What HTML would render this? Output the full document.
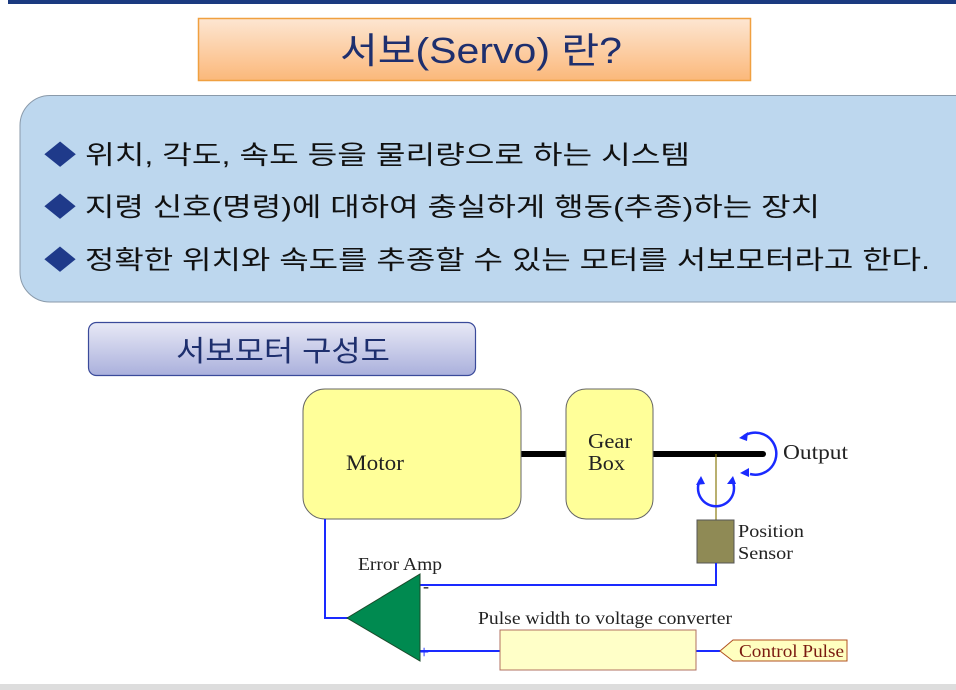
<!DOCTYPE html>
<html><head><meta charset="utf-8"><style>
html,body{margin:0;padding:0;background:#fff;width:956px;height:690px;overflow:hidden}
svg{display:block}
.k{font-family:"Liberation Sans","Noto Sans CJK KR","NanumGothic",sans-serif}
.s{font-family:"Liberation Serif",serif}
</style></head><body>
<svg width="956" height="690" viewBox="0 0 956 690" xmlns="http://www.w3.org/2000/svg">
<defs>
<linearGradient id="og" x1="0" y1="0" x2="0" y2="1"><stop offset="0" stop-color="#fde6d2"/><stop offset="1" stop-color="#fbb87a"/></linearGradient>
<linearGradient id="lg" x1="0" y1="0" x2="0" y2="1"><stop offset="0" stop-color="#e8e9f6"/><stop offset="1" stop-color="#aab0dc"/></linearGradient>
</defs>
<rect x="8" y="0" width="948" height="4" fill="#1b3a80"/>
<rect x="198.5" y="18.5" width="552" height="62" fill="url(#og)" stroke="#f0a040" stroke-width="1.5"/>
<text x="340" y="63" class="k" font-size="36" fill="#1e2f6e" textLength="282" lengthAdjust="spacingAndGlyphs">서보(Servo) 란?</text>
<path d="M50 95.5 H960 V302 H50 A30 30 0 0 1 20 272 V125.5 A30 30 0 0 1 50 95.5 Z" fill="#bdd7ee" stroke="#8a9aaa" stroke-width="1"/>
<g class="k" font-size="26" fill="#111">
<text x="44" y="164" textLength="646" lengthAdjust="spacingAndGlyphs"><tspan fill="#1f3a8a">◆</tspan> 위치, 각도, 속도 등을 물리량으로 하는 시스템</text>
<text x="44" y="216" textLength="776" lengthAdjust="spacingAndGlyphs"><tspan fill="#1f3a8a">◆</tspan> 지령 신호(명령)에 대하여 충실하게 행동(추종)하는 장치</text>
<text x="44" y="269" textLength="886" lengthAdjust="spacingAndGlyphs"><tspan fill="#1f3a8a">◆</tspan> 정확한 위치와 속도를 추종할 수 있는 모터를 서보모터라고 한다.</text>
</g>
<rect x="88.5" y="322.5" width="387" height="53" rx="8" fill="url(#lg)" stroke="#3a4a9a" stroke-width="1.2"/>
<text x="176" y="361" class="k" font-size="29" fill="#1e2f6e" textLength="214" lengthAdjust="spacingAndGlyphs">서보모터 구성도</text>
<!-- diagram -->
<line x1="520" y1="454" x2="568" y2="454" stroke="#000" stroke-width="6"/>
<line x1="652" y1="454" x2="763" y2="454" stroke="#000" stroke-width="6" stroke-linecap="round"/>
<rect x="303" y="389" width="218" height="130" rx="22" fill="#ffff99" stroke="#666" stroke-width="1"/>
<rect x="566" y="389" width="87" height="130" rx="20" fill="#ffff99" stroke="#666" stroke-width="1"/>
<text x="346" y="470" class="s" font-size="22" fill="#222" textLength="58" lengthAdjust="spacingAndGlyphs">Motor</text>
<text x="588" y="448" class="s" font-size="21" fill="#222" textLength="44" lengthAdjust="spacingAndGlyphs">Gear</text>
<text x="588" y="470" class="s" font-size="21" fill="#222" textLength="37" lengthAdjust="spacingAndGlyphs">Box</text>
<line x1="716" y1="454" x2="716" y2="520" stroke="#8a7a10" stroke-width="1.2"/>
<path d="M744 436 A21 21 0 1 1 750 474" fill="none" stroke="#1a2aff" stroke-width="2.5"/>
<path d="M739 438 l9 -6 l-1 9 z M740 473 l9 -5 l0 9 z" fill="#1a2aff"/>
<path d="M700 480 A18 18 0 1 0 732 480" fill="none" stroke="#1a2aff" stroke-width="2.5"/>
<path d="M696 485 l5 -9 l4 8 z M727 484 l6 -8 l3 8 z" fill="#1a2aff"/>
<text x="783" y="459" class="s" font-size="21" fill="#222" textLength="65" lengthAdjust="spacingAndGlyphs">Output</text>
<rect x="697" y="520" width="37" height="43" fill="#8f8a55" stroke="#555" stroke-width="1"/>
<text x="738" y="537" class="s" font-size="18" fill="#222" textLength="66" lengthAdjust="spacingAndGlyphs">Position</text>
<text x="738" y="559" class="s" font-size="18" fill="#222" textLength="55" lengthAdjust="spacingAndGlyphs">Sensor</text>
<polyline points="325,519 325,618 350,618" fill="none" stroke="#1a2aff" stroke-width="2"/>
<polyline points="716,563 716,585 420,585" fill="none" stroke="#1a2aff" stroke-width="2"/>
<line x1="420" y1="651" x2="500" y2="651" stroke="#1a2aff" stroke-width="2"/>
<line x1="696" y1="651" x2="720" y2="651" stroke="#1a2aff" stroke-width="2"/>
<polygon points="347,618 420,574 420,661" fill="#008a50" stroke="#1a4a2a" stroke-width="1"/>
<text x="423" y="592" class="s" font-size="18" fill="#222">-</text>
<text x="419" y="658" class="s" font-size="18" fill="#1a2aff">+</text>
<text x="358" y="570" class="s" font-size="18" fill="#222" textLength="84" lengthAdjust="spacingAndGlyphs">Error Amp</text>
<text x="478" y="624" class="s" font-size="18" fill="#222" textLength="254" lengthAdjust="spacingAndGlyphs">Pulse width to voltage converter</text>
<rect x="500" y="630" width="196" height="40" fill="#ffffc8" stroke="#b07060" stroke-width="1"/>
<polygon points="720,651 733,640 847,640 847,661 733,661" fill="#ffffc0" stroke="#b05020" stroke-width="1"/>
<text x="739" y="657" class="s" font-size="18" fill="#7a1a10" textLength="105" lengthAdjust="spacingAndGlyphs">Control Pulse</text>
<rect x="0" y="684" width="956" height="6" fill="#dddddd"/>
</svg>
</body></html>
